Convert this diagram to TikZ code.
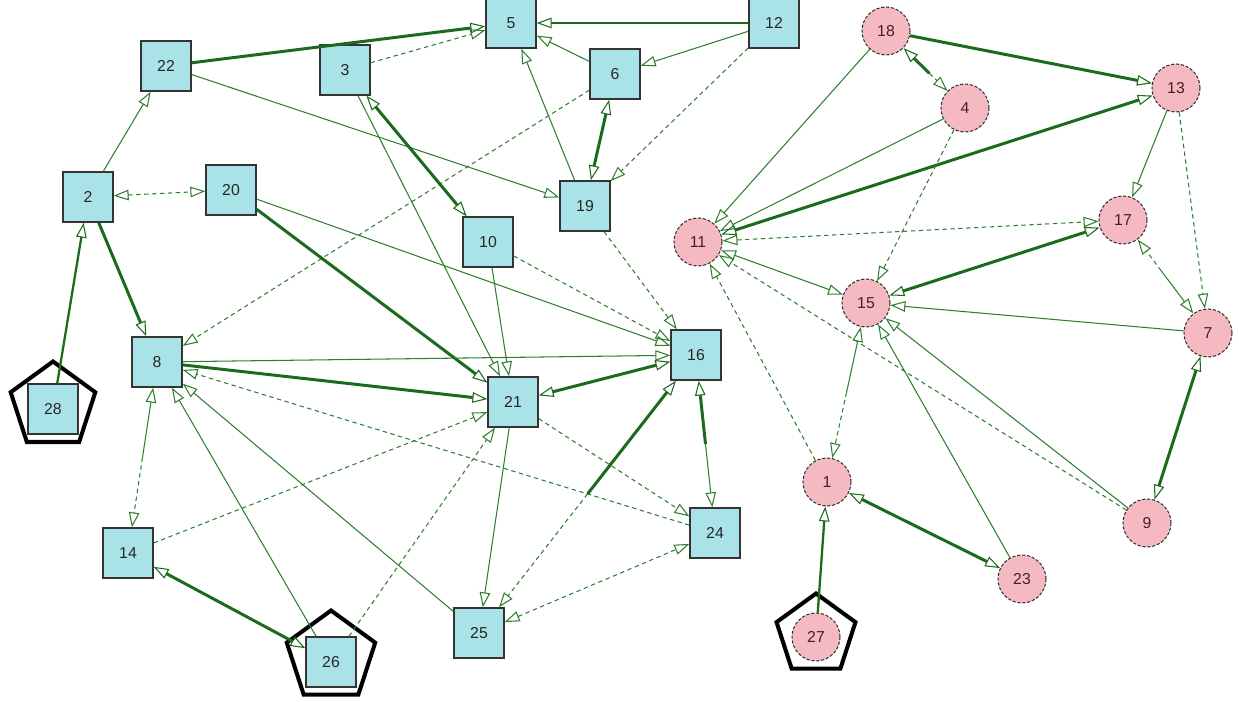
\documentclass[tikz,border=0pt]{standalone}
\usepackage{fontspec}
\setmainfont{Liberation Sans}
\usetikzlibrary{arrows.meta,calc,shapes.geometric}
\definecolor{sqfill}{HTML}{A9E3E8}
\definecolor{cifill}{HTML}{F4B9C1}
\definecolor{edgegreen}{HTML}{2F7F2F}
\definecolor{thickgreen}{HTML}{1C6B1C}
\definecolor{citext}{HTML}{4A1E1E}
\begin{document}
\begin{tikzpicture}[x=0.02cm,y=-0.02cm,
  sq/.style={draw=black!80, line width=0.8pt, fill=sqfill, minimum size=1cm, inner sep=0pt, font=\fontsize{9}{10}\selectfont, text=black!85},
  ci/.style={circle, draw=black!80, dash pattern=on 1.8pt off 1pt, line width=0.6pt, fill=cifill, minimum size=0.96cm, inner sep=0pt, font=\fontsize{9}{10}\selectfont, text=citext},
  pent/.style={regular polygon, regular polygon sides=5, draw=black, line width=2.3pt, inner sep=0pt},
  ln/.style={draw=edgegreen, line width=0.6pt},
  tk/.style={draw=thickgreen, line width=1.7pt},
  ds/.style={draw=edgegreen, line width=0.6pt, dash pattern=on 2.5pt off 2pt},
  >={Triangle[open,length=8.5pt,width=6pt,line width=0.6pt]}]
\useasboundingbox (0,0) rectangle (1239,702);
% pentagons
\node[pent, minimum size=1.78cm] (p28) at (53,406) {};
\node[pent, minimum size=1.86cm] (p26) at (331,657) {};
\node[pent, minimum size=1.66cm] (p27) at (816,635) {};
% square nodes
\node[sq] (n5) at (511,23) {5};
\node[sq] (n12) at (774,23) {12};
\node[sq] (n22) at (166,66) {22};
\node[sq] (n3) at (345,70) {3};
\node[sq] (n6) at (615,74) {6};
\node[sq] (n2) at (88,197) {2};
\node[sq] (n20) at (231,190) {20};
\node[sq] (n19) at (585,206) {19};
\node[sq] (n10) at (488,242) {10};
\node[sq] (n8) at (157,362) {8};
\node[sq] (n28) at (53,409) {28};
\node[sq] (n21) at (513,402) {21};
\node[sq] (n16) at (696,355) {16};
\node[sq] (n14) at (128,553) {14};
\node[sq] (n26) at (331,662) {26};
\node[sq] (n24) at (715,533) {24};
\node[sq] (n25) at (479,633) {25};
% circle nodes
\node[ci] (n11) at (698,242) {11};
\node[ci] (n18) at (886,31) {18};
\node[ci] (n4) at (965,108) {4};
\node[ci] (n13) at (1176,88) {13};
\node[ci] (n17) at (1123,220) {17};
\node[ci] (n15) at (866,303) {15};
\node[ci] (n7) at (1208,333) {7};
\node[ci] (n1) at (827,482) {1};
\node[ci] (n9) at (1147,523) {9};
\node[ci] (n23) at (1022,579) {23};
\node[ci] (n27) at (816,637) {27};
% split points
\coordinate (h1) at ($(n16)!0.5!(n25)$);
\coordinate (h2) at ($(n18)!0.55!(n4)$);
\coordinate (h3) at ($(n16)!0.5!(n24)$);
\coordinate (h4) at ($(n17)!0.45!(n7)$);
\coordinate (h5) at ($(n15)!0.5!(n1)$);
\coordinate (h6) at ($(n8)!0.5!(n14)$);
% left cluster edges
\draw[tk,->] (n22) -- (n5);
\draw[ds,->] (n3) -- (n5);
\draw[tk,->] (n12) -- (n5);
\draw[ln,->] (n12) -- (n6);
\draw[ln,->] (n6) -- (n5);
\draw[ds,->] (n12) -- (n19);
\draw[tk,<->] (n6) -- (n19);
\draw[ln,->] (n19) -- (n5);
\draw[ds,->] (n6) -- (n8);
\draw[ln,->] (n22) -- (n19);
\draw[ln,->] (n2) -- (n22);
\draw[ds,<->] (n2) -- (n20);
\draw[tk,line width=1.3pt,->] (n28) -- (n2);
\draw[tk,->] (n2) -- (n8);
\draw[tk,<->] (n3) -- (n10);
\draw[ln,->] (n3) -- (n21);
\draw[ln,->] (n10) -- (n21);
\draw[tk,->] (n20) -- (n21);
\draw[ln,->] (n20) -- (n16);
\draw[ds,->] (n10) -- (n16);
\draw[ds,->] (n19) -- (n16);
\draw[ln,->] (n8) -- (n16);
\draw[tk,->] (n8) -- (n21);
\draw[ds,->] (n14) -- (n21);
\draw[ln,->] (h6) -- (n8);
\draw[ds,->] (h6) -- (n14);
\draw[tk,<->] (n14) -- (n26);
\draw[ln,->] (n26) -- (n8);
\draw[ds,->] (n26) -- (n21);
\draw[ln,->] (n25) -- (n8);
\draw[ln,->] (n21) -- (n25);
\draw[ds,->] (n21) -- (n24);
\draw[ds,->] (n24) -- (n8);
\draw[ds,<->] (n25) -- (n24);
\draw[ds,->] (h1) -- (n25);
\draw[tk,->] (h1) -- (n16);
\draw[tk,->] (h3) -- (n16);
\draw[ln,->] (h3) -- (n24);
\draw[tk,<->] (n21) -- (n16);
% right cluster edges
\draw[tk,->] (n18) -- (n13);
\draw[tk,->] (h2) -- (n18);
\draw[ds,->] (h2) -- (n4);
\draw[ln,->] (n18) -- (n11);
\draw[ln,->] (n4) -- (n11);
\draw[tk,<->] (n11) -- (n13);
\draw[ds,->] (n4) -- (n15);
\draw[ln,->] (n13) -- (n17);
\draw[ds,->] (n13) -- (n7);
\draw[ds,->] (h4) -- (n17);
\draw[ln,->] (h4) -- (n7);
\draw[ds,<->] (n11) -- (n17);
\draw[tk,<->] (n15) -- (n17);
\draw[ln,->] (n7) -- (n15);
\draw[ln,<->] (n11) -- (n15);
\draw[ln,->] (h5) -- (n15);
\draw[ds,->] (h5) -- (n1);
\draw[ds,->] (n1) -- (n11);
\draw[ds,->] (n9) -- (n11);
\draw[ln,->] (n9) -- (n15);
\draw[ln,->] (n23) -- (n15);
\draw[tk,<->] (n7) -- (n9);
\draw[tk,line width=1.3pt,->] (n27) -- (n1);
\draw[tk,<->] (n1) -- (n23);
\end{tikzpicture}
\end{document}
